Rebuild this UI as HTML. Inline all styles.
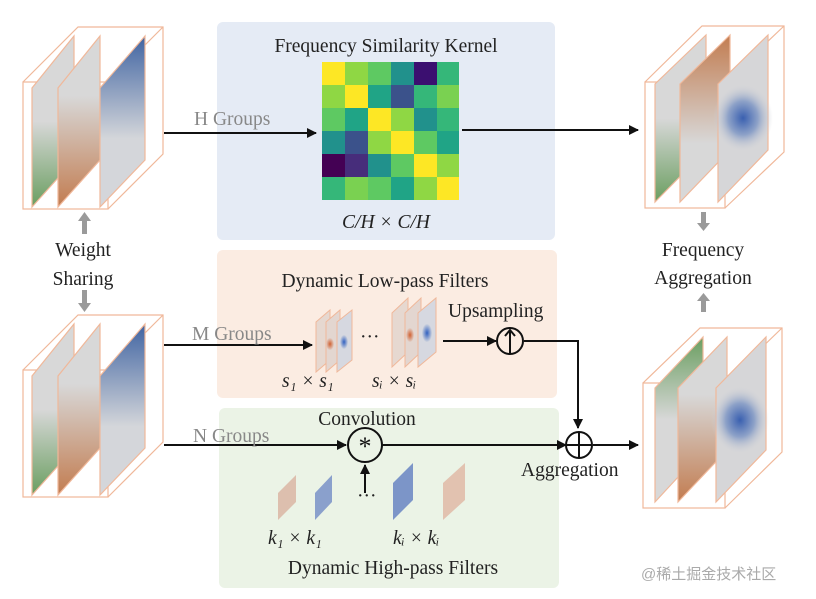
<!DOCTYPE html>
<html><head><meta charset="utf-8"><style>
body{margin:0;background:#fff;}
svg{display:block;font-family:"Liberation Serif",serif;}
</style></head><body>
<svg width="816" height="599" viewBox="0 0 816 599" xmlns="http://www.w3.org/2000/svg">
<defs>
<linearGradient id="gGreen" x1="0" y1="0" x2="0" y2="1"><stop offset="0.5" stop-color="#d8d8d8"/><stop offset="1" stop-color="#6a9e60"/></linearGradient>
<linearGradient id="gGreenT" x1="0" y1="1" x2="0" y2="0"><stop offset="0.5" stop-color="#d8d8d8"/><stop offset="1" stop-color="#6a9e60"/></linearGradient>
<linearGradient id="gOr" x1="0" y1="0" x2="0" y2="1"><stop offset="0.35" stop-color="#d8d8d8"/><stop offset="1" stop-color="#c27c50"/></linearGradient>
<linearGradient id="gOrT" x1="0" y1="1" x2="0" y2="0"><stop offset="0.35" stop-color="#d8d8d8"/><stop offset="1" stop-color="#c27c50"/></linearGradient>
<linearGradient id="gBl" x1="0" y1="0" x2="0" y2="1"><stop offset="0" stop-color="#4064a2"/><stop offset="0.6" stop-color="#d4d6da"/></linearGradient>
<radialGradient id="gBlob"><stop offset="0" stop-color="#3a60b0"/><stop offset="0.5" stop-color="#8ea2c8"/><stop offset="1" stop-color="#d6d6d8" stop-opacity="0"/></radialGradient>
<radialGradient id="gSmB"><stop offset="0" stop-color="#3060c0"/><stop offset="1" stop-color="#d0d4de"/></radialGradient>
<radialGradient id="gSmO"><stop offset="0" stop-color="#d06030"/><stop offset="1" stop-color="#e2d0c8"/></radialGradient>
<marker id="ar" markerWidth="10" markerHeight="10" refX="9" refY="5" orient="auto" markerUnits="userSpaceOnUse"><path d="M0,0 L10,5 L0,10 z" fill="#111"/></marker>
</defs>

<rect x="217" y="22" width="338" height="218" rx="6" fill="#e5ebf5"/>
<rect x="217" y="250" width="340" height="148" rx="6" fill="#fbece2"/>
<rect x="219" y="408" width="340" height="180" rx="6" fill="#ebf3e6"/>

<g transform="translate(322,62)">
<rect x="0" y="0" width="23" height="23" fill="#fde725"/><rect x="23" y="0" width="23" height="23" fill="#8fd744"/><rect x="46" y="0" width="23" height="23" fill="#5ec962"/><rect x="69" y="0" width="23" height="23" fill="#21918c"/><rect x="92" y="0" width="23" height="23" fill="#3b0f70"/><rect x="115" y="0" width="22" height="23" fill="#35b779"/>
<rect x="0" y="23" width="23" height="23" fill="#8fd744"/><rect x="23" y="23" width="23" height="23" fill="#fde725"/><rect x="46" y="23" width="23" height="23" fill="#20a486"/><rect x="69" y="23" width="23" height="23" fill="#3b528b"/><rect x="92" y="23" width="23" height="23" fill="#35b779"/><rect x="115" y="23" width="22" height="23" fill="#7ad151"/>
<rect x="0" y="46" width="23" height="23" fill="#5ec962"/><rect x="23" y="46" width="23" height="23" fill="#20a486"/><rect x="46" y="46" width="23" height="23" fill="#fde725"/><rect x="69" y="46" width="23" height="23" fill="#8fd744"/><rect x="92" y="46" width="23" height="23" fill="#21918c"/><rect x="115" y="46" width="22" height="23" fill="#35b779"/>
<rect x="0" y="69" width="23" height="23" fill="#21918c"/><rect x="23" y="69" width="23" height="23" fill="#3b528b"/><rect x="46" y="69" width="23" height="23" fill="#8fd744"/><rect x="69" y="69" width="23" height="23" fill="#fde725"/><rect x="92" y="69" width="23" height="23" fill="#5ec962"/><rect x="115" y="69" width="22" height="23" fill="#20a486"/>
<rect x="0" y="92" width="23" height="23" fill="#440154"/><rect x="23" y="92" width="23" height="23" fill="#472d7b"/><rect x="46" y="92" width="23" height="23" fill="#21918c"/><rect x="69" y="92" width="23" height="23" fill="#5ec962"/><rect x="92" y="92" width="23" height="23" fill="#fde725"/><rect x="115" y="92" width="22" height="23" fill="#8fd744"/>
<rect x="0" y="115" width="23" height="23" fill="#35b779"/><rect x="23" y="115" width="23" height="23" fill="#7ad151"/><rect x="46" y="115" width="23" height="23" fill="#5ec962"/><rect x="69" y="115" width="23" height="23" fill="#20a486"/><rect x="92" y="115" width="23" height="23" fill="#8fd744"/><rect x="115" y="115" width="22" height="23" fill="#fde725"/>
</g>

<g stroke="#f0b89a" stroke-width="1.2">
<rect x="23" y="82" width="85" height="127" fill="none"/>
<polyline points="23,82 78,27 163,27 163,154 108,209" fill="none"/>
<line x1="108" y1="82" x2="163" y2="27"/>
<polygon points="32,207 32,88 74,36 74,160" fill="url(#gGreen)"/>
<polygon points="58,207 58,88 100,36 100,160" fill="url(#gOr)"/>
<polygon points="100,207 100,88 145,36 145,160" fill="url(#gBl)"/>
</g>
<g stroke="#f0b89a" stroke-width="1.2">
<rect x="23" y="370" width="85" height="127" fill="none"/>
<polyline points="23,370 78,315 163,315 163,442 108,497" fill="none"/>
<line x1="108" y1="370" x2="163" y2="315"/>
<polygon points="32,495 32,376 74,324 74,448" fill="url(#gGreen)"/>
<polygon points="58,495 58,376 100,324 100,448" fill="url(#gOr)"/>
<polygon points="100,495 100,376 145,324 145,448" fill="url(#gBl)"/>
</g>
<g stroke="#f0b89a" stroke-width="1.2">
<rect x="645" y="82" width="80" height="126" fill="none"/>
<polyline points="645,82 702,26 784,26 784,152 725,208" fill="none"/>
<line x1="725" y1="82" x2="784" y2="26"/>
<polygon points="655,202 655,84 706,35 706,150" fill="url(#gGreen)"/>
<polygon points="680,202 680,84 730,35 730,150" fill="url(#gOrT)"/>
<polygon points="718,202 718,84 768,35 768,150" fill="#d6d6d8"/>
<ellipse cx="743" cy="118" rx="30" ry="34" fill="url(#gBlob)" stroke="none"/>
</g>
<g stroke="#f0b89a" stroke-width="1.2">
<rect x="643" y="383" width="82" height="125" fill="none"/>
<polyline points="643,383 700,328 782,328 782,452 725,508" fill="none"/>
<line x1="725" y1="383" x2="782" y2="328"/>
<polygon points="655,502 655,388 703,337 703,450" fill="url(#gGreenT)"/>
<polygon points="678,502 678,388 727,337 727,450" fill="url(#gOr)"/>
<polygon points="716,502 716,388 766,337 766,450" fill="#d6d6d8"/>
<ellipse cx="740" cy="420" rx="29" ry="34" fill="url(#gBlob)" stroke="none"/>
</g>

<g fill="#9a9a9a">
<rect x="82" y="220" width="5" height="14"/><polygon points="78,221 91,221 84.5,212"/>
<rect x="82" y="290" width="5" height="14"/><polygon points="78,303 91,303 84.5,312"/>
<rect x="701" y="212" width="5" height="12"/><polygon points="697,223 710,223 703.5,231"/>
<rect x="701" y="300" width="5" height="12"/><polygon points="697,301 710,301 703.5,293"/>
</g>

<g stroke="#111" stroke-width="2" fill="none">
<line x1="164" y1="133" x2="316" y2="133" marker-end="url(#ar)"/>
<line x1="462" y1="130" x2="638" y2="130" marker-end="url(#ar)"/>
<line x1="164" y1="345" x2="312" y2="345" marker-end="url(#ar)"/>
<line x1="443" y1="341" x2="496" y2="341" marker-end="url(#ar)"/>
<polyline points="524,341 578,341 578,428" marker-end="url(#ar)"/>
<line x1="164" y1="445" x2="346" y2="445" marker-end="url(#ar)"/>
<line x1="382" y1="445" x2="566" y2="445" marker-end="url(#ar)"/>
<line x1="593" y1="445" x2="638" y2="445" marker-end="url(#ar)"/>
<line x1="365" y1="493" x2="365" y2="465" marker-end="url(#ar)"/>
<circle cx="510" cy="341" r="13"/>
<line x1="510" y1="354" x2="510" y2="331"/>
<polyline points="505,336 510,330 515,336"/>
<circle cx="365" cy="445" r="17"/>
<circle cx="579" cy="445" r="13"/>
<line x1="566" y1="445" x2="592" y2="445"/><line x1="579" y1="432" x2="579" y2="458"/>
</g>
<text x="365" y="455" font-size="26" text-anchor="middle" fill="#111">*</text>

<g stroke="#f0b89a" stroke-width="1">
<polygon points="316,372 316,322 330,310 330,360" fill="#e6d8d0"/>
<polygon points="326,372 326,322 340,310 340,360" fill="#e3d6d0"/>
<ellipse cx="330" cy="344" rx="4" ry="6" fill="url(#gSmO)" stroke="none"/>
<polygon points="337,372 337,322 352,310 352,360" fill="#d6d8e0"/>
<ellipse cx="344" cy="342" rx="4" ry="7" fill="url(#gSmB)" stroke="none"/>
<polygon points="392,367 392,313 408,298 408,352" fill="#e6d8d0"/>
<polygon points="405,367 405,313 421,298 421,352" fill="#e3d6d0"/>
<ellipse cx="410" cy="335" rx="4" ry="7" fill="url(#gSmO)" stroke="none"/>
<polygon points="418,367 418,313 436,298 436,352" fill="#d6d8e0"/>
<ellipse cx="427" cy="333" rx="5" ry="9" fill="url(#gSmB)" stroke="none"/>
</g>
<polygon points="278,520 278,493 296,475 296,502" fill="#ddbfae"/>
<polygon points="315,520 315,493 332,475 332,502" fill="#8aa0cc"/>
<polygon points="393,520 393,483 413,463 413,500" fill="#7c95c8"/>
<polygon points="443,520 443,483 465,463 465,500" fill="#e2c2b0"/>

<g font-size="19.5" fill="#222">
<text x="386" y="52" text-anchor="middle">Frequency Similarity Kernel</text>
<text x="386" y="228" text-anchor="middle" font-style="italic">C/H × C/H</text>
<text x="194" y="125" fill="#888">H Groups</text>
<text x="83" y="256" text-anchor="middle">Weight</text>
<text x="83" y="285" text-anchor="middle">Sharing</text>
<text x="385" y="287" text-anchor="middle">Dynamic Low-pass Filters</text>
<text x="448" y="317">Upsampling</text>
<text x="192" y="340" fill="#888">M Groups</text>
<text x="360" y="343">···</text>
<text x="282" y="387" font-style="italic">s₁ × s₁</text>
<text x="372" y="387" font-style="italic">sᵢ × sᵢ</text>
<text x="367" y="425" text-anchor="middle">Convolution</text>
<text x="193" y="442" fill="#888">N Groups</text>
<text x="521" y="476">Aggregation</text>
<text x="357" y="502">···</text>
<text x="268" y="544" font-style="italic">k₁ × k₁</text>
<text x="393" y="544" font-style="italic">kᵢ × kᵢ</text>
<text x="393" y="574" text-anchor="middle">Dynamic High-pass Filters</text>
<text x="703" y="256" text-anchor="middle">Frequency</text>
<text x="703" y="284" text-anchor="middle">Aggregation</text>
</g>
<text x="641" y="579" font-size="15" fill="#aaa" font-family="'Liberation Sans','Noto Sans CJK SC',sans-serif">@稀土掘金技术社区</text>
</svg>
</body></html>
